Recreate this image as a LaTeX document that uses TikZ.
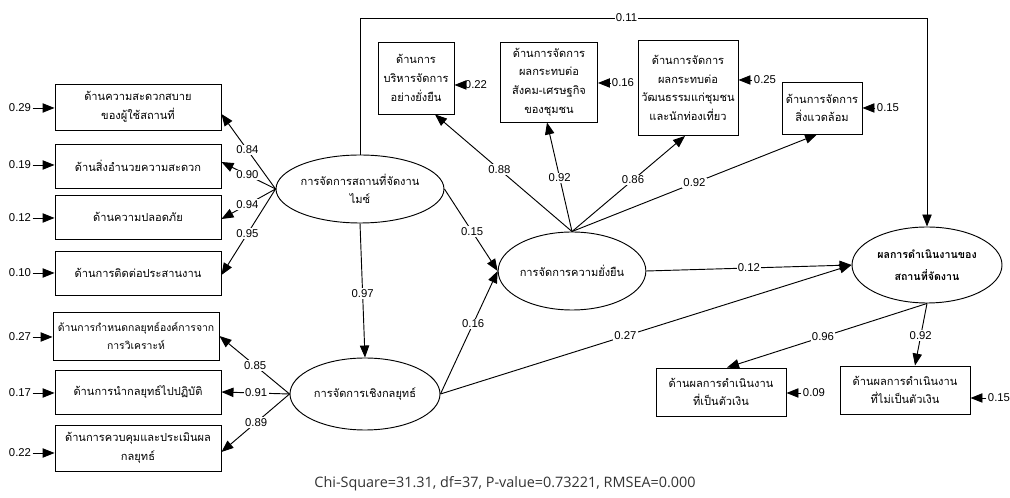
\documentclass[tikz,border=0pt]{standalone}
\usepackage{fontspec}
\setmainfont{Liberation Sans}
\newfontfamily\thaifont[Script=Thai]{Loma}
\newfontfamily\chifont{Open Sans}
\usetikzlibrary{arrows.meta,calc,shapes.geometric}
\begin{document}
\begin{tikzpicture}[x=0.75pt,y=-0.75pt,
  every node/.style={inner sep=0pt},
  bx/.style 2 args={draw, line width=0.7pt, minimum width=#1*0.75pt, minimum height=#2*0.75pt, align=center, font=\thaifont\fontsize{8.3}{14}\selectfont},
  lat/.style 2 args={draw, ellipse, line width=0.7pt, minimum width=#1*0.75pt, minimum height=#2*0.75pt, align=center, font=\thaifont\fontsize{8.3}{14}\selectfont},
  arr/.style={line width=0.7pt, -{Triangle[length=9pt,width=7pt]}},
  lbl/.style={fill=white, inner sep=1pt, font=\fontsize{8.5}{10}\selectfont},
  err/.style={inner sep=1pt, font=\fontsize{8.5}{10}\selectfont}
]
\fill[white] (0,0) rectangle (1010,498);
\path[use as bounding box] (0,0) rectangle (1010,498);

% latent variables
\node[lat={148}{68}] (mice) at (360,189) {การจัดการสถานที่จัดงาน\\ไมซ์};
\node[lat={150}{72}] (strat) at (365,394) {การจัดการเชิงกลยุทธ์};
\node[lat={146}{78}] (sust) at (572,271) {การจัดการความยั่งยืน};
\node[lat={150}{76}, font=\thaifont\bfseries\fontsize{8}{16}\selectfont] (perf) at (927,265) {ผลการดำเนินงานของ\\สถานที่จัดงาน};

% left indicators
\node[bx={166}{46}] (b1) at (138,107) {ด้านความสะดวกสบาย\\ของผู้ใช้สถานที่};
\node[bx={166}{44}] (b2) at (138,166) {ด้านสิ่งอำนวยความสะดวก};
\node[bx={166}{44}] (b3) at (138,217) {ด้านความปลอดภัย};
\node[bx={166}{44}] (b4) at (138,273) {ด้านการติดต่อประสานงาน};
\node[bx={166}{48}, font=\thaifont\fontsize{7.8}{14}\selectfont] (b5) at (136,336) {ด้านการกำหนดกลยุทธ์องค์การจาก\\การวิเคราะห์};
\node[bx={166}{44}] (b6) at (138,392) {ด้านการนำกลยุทธ์ไปปฏิบัติ};
\node[bx={166}{46}] (b7) at (138,448) {ด้านการควบคุมและประเมินผล\\กลยุทธ์};

% top indicators
\node[bx={76}{72}] (ta) at (416,78) {ด้านการ\\บริหารจัดการ\\อย่างยั่งยืน};
\node[bx={97}{80}] (tb) at (549,82) {ด้านการจัดการ\\ผลกระทบต่อ\\สังคม-เศรษฐกิจ\\ของชุมชน};
\node[bx={100}{95}] (tc) at (688,88) {ด้านการจัดการ\\ผลกระทบต่อ\\วัฒนธรรมแก่ชุมชน\\และนักท่องเที่ยว};
\node[bx={80}{52}] (td) at (822,108) {ด้านการจัดการ\\สิ่งแวดล้อม};

% bottom right indicators
\node[bx={130}{48}] (be) at (721,392) {ด้านผลการดำเนินงาน\\ที่เป็นตัวเงิน};
\node[bx={130}{48}] (bf) at (905,390) {ด้านผลการดำเนินงาน\\ที่ไม่เป็นตัวเงิน};

% error terms
\node[err] (r1) at (20,108) {0.29};
\node[err] (r2) at (20,165) {0.19};
\node[err] (r3) at (20,218) {0.12};
\node[err] (r4) at (20,273) {0.10};
\node[err] (r5) at (20,337) {0.27};
\node[err] (r6) at (20,393) {0.17};
\node[err] (r7) at (20,453) {0.22};
\foreach \i in {1,...,7}{\draw[arr] (r\i.east) -- (r\i.east -| b\i.west);}

\node[err] (ra) at (476,85) {0.22};
\node[err] (rb) at (623,83) {0.16};
\node[err] (rc) at (765,80) {0.25};
\node[err] (rd) at (888,108) {0.15};
\node[err] (re) at (814,393) {0.09};
\node[err] (rf) at (999,398) {0.15};
\draw[arr] (ra.west) -- (ra.west -| ta.east);
\draw[arr] (rb.west) -- (rb.west -| tb.east);
\draw[arr] (rc.west) -- (rc.west -| tc.east);
\draw[arr] (rd.west) -- (rd.west -| td.east);
\draw[arr] (re.west) -- (re.west -| be.east);
\draw[arr] (rf.west) -- (rf.west -| bf.east);

% loadings MICE
\draw[arr] (mice.west) -- node[lbl,pos=0.52]{0.84} ($(b1.east)+(0,7)$);
\draw[arr] (mice.west) -- node[lbl,pos=0.52]{0.90} ($(b2.east)+(0,-4)$);
\draw[arr] (mice.west) -- node[lbl,pos=0.52]{0.94} ($(b3.east)+(0,2)$);
\draw[arr] (mice.west) -- node[lbl,pos=0.52]{0.95} ($(b4.east)+(0,2)$);

% loadings strategy
\draw[arr] (strat.west) -- node[lbl,pos=0.49]{0.85} (b5.east);
\draw[arr] (strat.west) -- node[lbl,pos=0.49]{0.91} (b6.east);
\draw[arr] (strat.west) -- node[lbl,pos=0.49]{0.89} ($(b7.east)+(0,4)$);

% loadings sustainability
\draw[arr] (sust.north) -- node[lbl,pos=0.53]{0.88} ($(ta.south)+(19,0)$);
\draw[arr] (sust.north) -- node[lbl,pos=0.49]{0.92} ($(tb.south)+(-2,0)$);
\draw[arr] (sust.north) -- node[lbl,pos=0.54]{0.86} ($(tc.south)+(-3,0)$);
\draw[arr] (sust.north) -- node[lbl,pos=0.5]{0.92} ($(td.south)+(-5,0)$);

% loadings performance
\draw[arr] (perf.south) -- node[lbl,pos=0.52]{0.96} ($(be.north)+(6,0)$);
\draw[arr] (perf.south) -- node[lbl,pos=0.52]{0.92} ($(bf.north)+(10,0)$);

% structural paths
\draw[arr] (mice.south) -- node[lbl,pos=0.52]{0.97} (strat.north);
\draw[arr] (mice.east) -- node[lbl,pos=0.52]{0.15} (sust.west);
\draw[arr] (strat.east) -- node[lbl,pos=0.57]{0.16} (sust.west);
\draw[arr] (sust.east) -- node[lbl,pos=0.5]{0.12} (perf.west);
\draw[arr] (strat.east) -- node[lbl,pos=0.45]{0.27} (perf.west);
\coordinate (ytop) at (0,18);
\draw[arr] (mice.north) -- (mice.north |- ytop) -- node[lbl,pos=0.47]{0.11} (perf.north |- ytop) -- (perf.north);

% fit statistics
\node[font=\chifont\fontsize{10.8}{12}\selectfont, text=black!80] (fit) at (505,484) {Chi-Square=31.31, df=37, P-value=0.73221, RMSEA=0.000};
\end{tikzpicture}
\end{document}
